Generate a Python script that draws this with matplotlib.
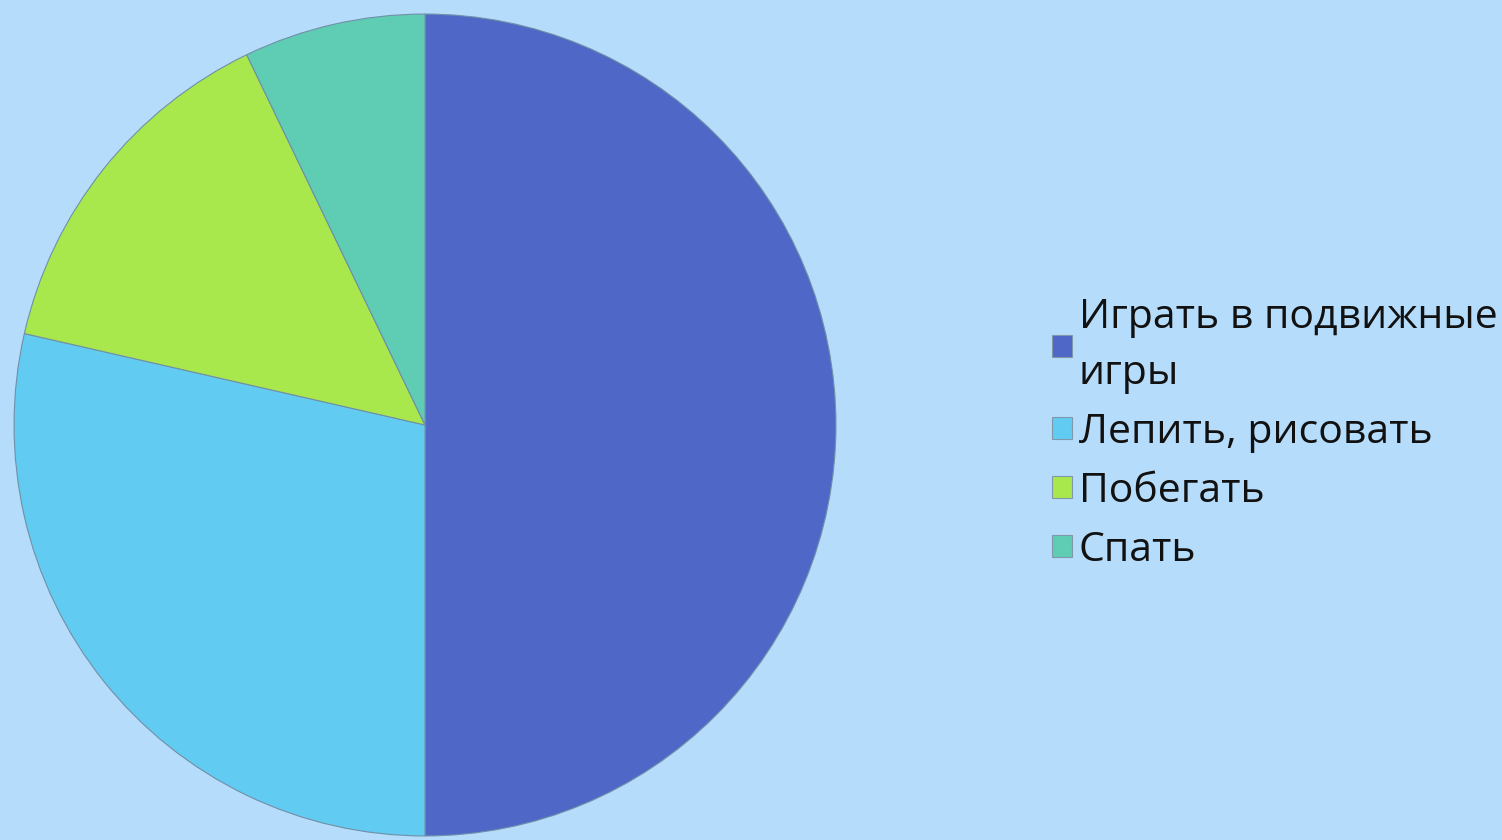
import matplotlib.pyplot as plt
from matplotlib.patches import Patch

labels = ["Играть в подвижные\nигры", "Лепить, рисовать", "Побегать", "Спать"]
values = [7, 4, 2, 1]
colors = ["#4F67C6", "#62CBF1", "#A9E84C", "#5ECDB4"]
bg = "#B5DCFA"

plt.rcParams['font.family'] = ['Open Sans', 'DejaVu Sans']

fig = plt.figure(figsize=(15.02, 8.4), dpi=100)
fig.patch.set_facecolor(bg)

ax = fig.add_axes([12/1502, 2/840, 826/1502, 826/840])
ax.set_facecolor(bg)
wedges, _ = ax.pie(values, colors=colors, startangle=90, counterclock=False,
                   wedgeprops=dict(edgecolor="#7090A8", linewidth=0.8))
ax.set_xlim(-1.005, 1.005)
ax.set_ylim(-1.005, 1.005)
ax.set_aspect('equal')

handles = [Patch(facecolor=c, edgecolor="#8099AA", linewidth=0.8) for c in colors]
leg = fig.legend(handles, labels, loc='center left', bbox_to_anchor=(1052/1502, 1 - 434/840),
                 frameon=False, fontsize=29.5, handlelength=0.5, handleheight=0.45,
                 handletextpad=0.15, labelspacing=0.45, borderpad=0, borderaxespad=0)
for t in leg.get_texts():
    t.set_linespacing(1.5)
    t.set_color("#111111")

fig.savefig("out.png", dpi=100, facecolor=bg)
